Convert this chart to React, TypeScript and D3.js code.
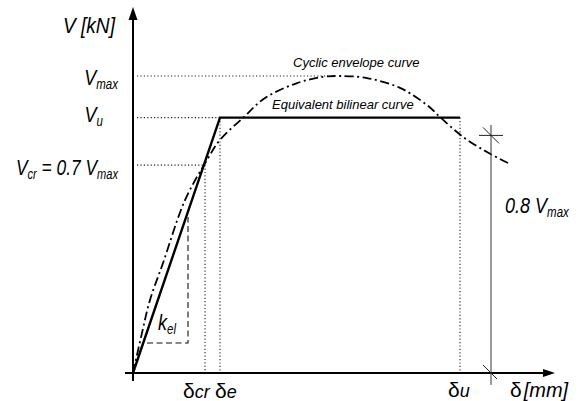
import React from "react";
import * as d3 from "d3";

// ---- data (δ in mm-like units, V as % of Vmax) ----
const envelopeDelta = [0, 0.9, 1.7, 3.0, 5.2, 7.4, 8.7, 11.0, 13.2, 16.4, 19.0, 20.7, 23.4, 26.7, 29.4, 30.7, 33.0, 35.4, 37.5];
const envelopeV = [0, 13.5, 24.6, 37.0, 58.2, 71.7, 78.5, 85.9, 92.6, 97.6, 99.7, 100, 99.3, 96.0, 90.2, 86.2, 79.5, 74.4, 70.7];
const bilinearDelta = [0, 8.7, 32.7];
const bilinearV = [0, 86, 86];
const kelDelta = [1.4, 5.5, 5.5];
const kelV = [10.1, 10.1, 52.5];
const Vmax = 100;
const Vu = 86;
const Vcr = 70;
const deltaCr = 7.2;
const deltaE = 8.7;
const deltaU = 32.7;
const dimDelta = 35.8;
const dimV = 0.8 * Vmax;

const W = 585;
const H = 401;

const x = d3.scaleLinear().domain([0, 42.2]).range([133, 555]);
const y = d3.scaleLinear().domain([0, 100]).range([373, 76]);

const FONT = "'Liberation Sans', Arial, Helvetica, sans-serif";

function NarrowLabel({ px, py, anchor = "start", size = 22, sx = 0.82, children }: any) {
  return (
    <g transform={`translate(${px},${py}) scale(${sx},1)`}>
      <text x={0} y={0} textAnchor={anchor} fontSize={size} fontStyle="italic" fontFamily={FONT} fill="#000">
        {children}
      </text>
    </g>
  );
}

export default function App() {
  const line = d3
    .line<[number, number]>()
    .x((d) => x(d[0]))
    .y((d) => y(d[1]));
  const envPts: [number, number][] = envelopeDelta.map((d, i) => [d, envelopeV[i]]);
  const envPath = d3
    .line<[number, number]>()
    .x((d) => x(d[0]))
    .y((d) => y(d[1]))
    .curve(d3.curveCatmullRom.alpha(0.5))(envPts) as string;
  const biPath = line(bilinearDelta.map((d, i) => [d, bilinearV[i]] as [number, number])) as string;
  const kelPath = line(kelDelta.map((d, i) => [d, kelV[i]] as [number, number])) as string;

  const x0 = x(0);
  const y0 = y(0);
  const dot = { stroke: "#222", strokeWidth: 1.1, strokeDasharray: "1.2 2.2", fill: "none" };
  const dimX = x(dimDelta);
  const dimY = y(dimV);

  return (
    <svg width={W} height={H} style={{ position: "absolute", left: 0, top: 0, background: "#fff" }}>
      <rect x={0} y={0} width={W} height={H} fill="#fff" />
      {/* dotted reference lines */}
      <line x1={x0 + 4} x2={x(19.5)} y1={y(Vmax)} y2={y(Vmax)} {...dot} />
      <line x1={x0 + 4} x2={x(deltaE)} y1={y(Vu)} y2={y(Vu)} {...dot} />
      <line x1={x0 + 4} x2={x(deltaCr)} y1={y(Vcr)} y2={y(Vcr)} {...dot} />
      <line x1={x(deltaCr)} x2={x(deltaCr)} y1={y(Vcr)} y2={y0} {...dot} />
      <line x1={x(deltaE)} x2={x(deltaE)} y1={y(Vu)} y2={y0} {...dot} />
      <line x1={x(deltaU)} x2={x(deltaU)} y1={y(Vu)} y2={y0} {...dot} />

      {/* kel triangle */}
      <path d={kelPath} fill="none" stroke="#111" strokeWidth={1.1} strokeDasharray="6 3.5" />

      {/* envelope curve */}
      <path d={envPath} fill="none" stroke="#000" strokeWidth={1.8} strokeDasharray="9 3.5 2 3.5" />
      {/* bilinear */}
      <path d={biPath} fill="none" stroke="#000" strokeWidth={2.4} strokeLinejoin="miter" />

      {/* axes */}
      <line x1={x0} x2={x0} y1={y0 + 8} y2={18} stroke="#000" strokeWidth={2} />
      <path d={`M${x0},7 L${x0 - 4.5},20 L${x0 + 4.5},20 Z`} fill="#000" />
      <line x1={x0 - 8} x2={545} y1={y0} y2={y0} stroke="#000" strokeWidth={2} />
      <path d={`M555,${y0} L543,${y0 - 4} L543,${y0 + 4} Z`} fill="#000" />

      {/* 0.8 Vmax dimension */}
      <line x1={dimX} x2={dimX} y1={y(83.5)} y2={y(-4)} stroke="#333" strokeWidth={1} />
      <line x1={dimX - 12} x2={dimX + 12} y1={dimY} y2={dimY} stroke="#222" strokeWidth={1} />
      <line x1={dimX - 8} x2={dimX + 8} y1={dimY - 8} y2={dimY + 8} stroke="#222" strokeWidth={1} />
      <line x1={dimX - 8} x2={dimX + 6} y1={y0 - 8} y2={y0 + 6} stroke="#222" strokeWidth={1} />

      {/* labels */}
      <NarrowLabel px={115} py={33} anchor="end" sx={0.87}>V [kN]</NarrowLabel>
      <NarrowLabel px={118} py={85} anchor="end">
        V<tspan fontSize={14} dy={4}>max</tspan>
      </NarrowLabel>
      <NarrowLabel px={103} py={122} anchor="end">
        V<tspan fontSize={14} dy={4}>u</tspan>
      </NarrowLabel>
      <NarrowLabel px={118} py={175} anchor="end" sx={0.79}>
        V<tspan fontSize={14} dy={4}>cr</tspan>
        <tspan dy={-4}> = 0.7 V</tspan>
        <tspan fontSize={14} dy={4}>max</tspan>
      </NarrowLabel>
      <NarrowLabel px={505} py={213}>
        0.8 V<tspan fontSize={14} dy={4}>max</tspan>
      </NarrowLabel>
      <NarrowLabel px={158} py={330}>
        k<tspan fontSize={14} dy={4}>el</tspan>
      </NarrowLabel>

      <text x={293} y={67} fontSize={13} fontStyle="italic" fontFamily={FONT}>Cyclic envelope curve</text>
      <text x={272} y={109} fontSize={13} fontStyle="italic" fontFamily={FONT}>Equivalent bilinear curve</text>

      <text x={183} y={398} fontSize={21} fontFamily={FONT}>
        δ<tspan fontStyle="italic" fontSize={18}>cr</tspan>
      </text>
      <text x={215} y={398} fontSize={21} fontFamily={FONT}>
        δ<tspan fontStyle="italic" fontSize={18}>e</tspan>
      </text>
      <text x={448} y={397} fontSize={21} fontFamily={FONT}>
        δ<tspan fontStyle="italic" fontSize={18}>u</tspan>
      </text>
      <text x={510} y={397} fontSize={21} fontFamily={FONT}>
        δ<tspan fontStyle="italic" dx={2} fontSize={20}>[mm]</tspan>
      </text>
    </svg>
  );
}
